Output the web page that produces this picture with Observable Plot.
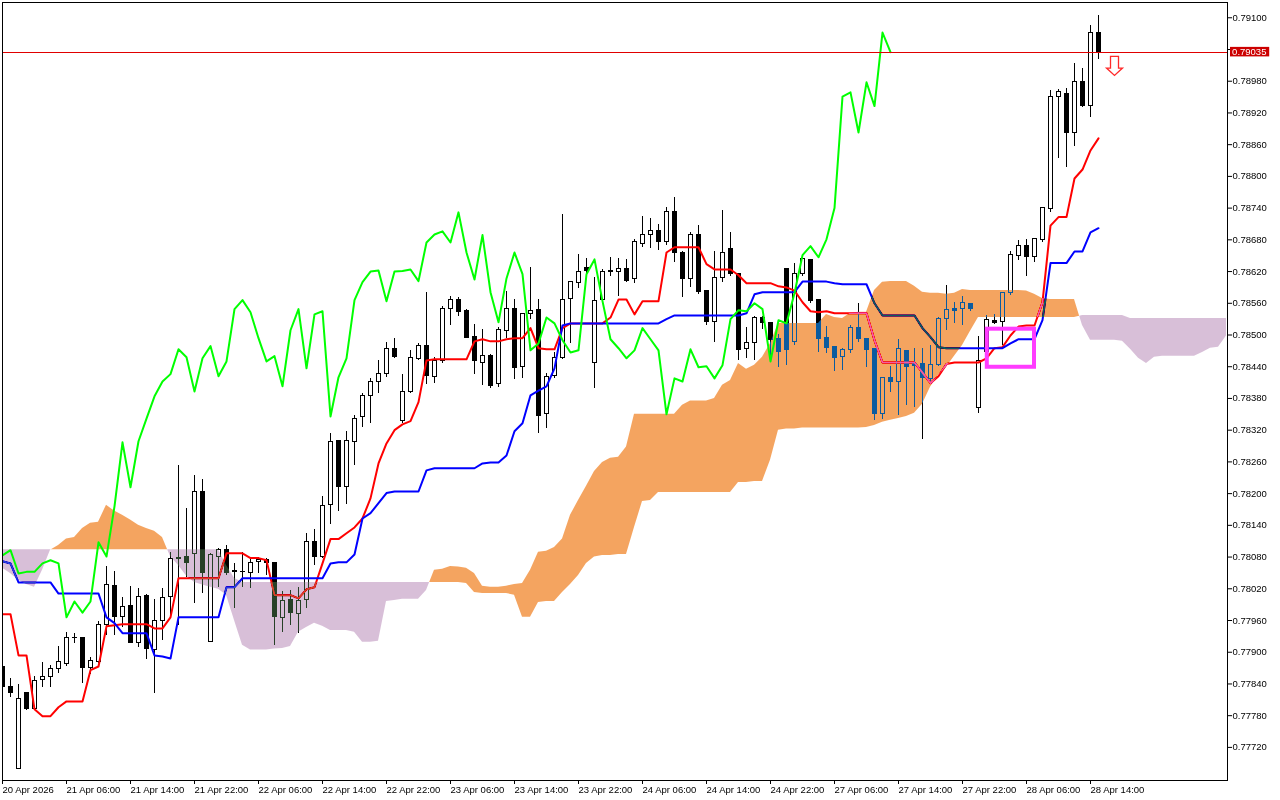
<!DOCTYPE html>
<html>
<head>
<meta charset="utf-8">
<style>
html,body{margin:0;padding:0;background:#ffffff;}
#chart svg{display:block;isolation:isolate;}
</style>
<script src="https://cdn.jsdelivr.net/npm/d3@7"></script>
<script src="https://cdn.jsdelivr.net/npm/@observablehq/plot@0.6"></script>
</head>
<body>
<div id="chart"></div>
<script>
// ---- Candles (H1), bar index 0 = 20 Apr 22:00 ----
const open = [
0.77873,0.77834,0.77680,0.77822,0.77792,0.77847,0.77854,0.77868,0.77877,0.77926,
0.77926,0.77870,0.77881,0.77951,0.78025,0.77966,0.77987,0.77917,0.78006,0.77905,
0.77960,0.78004,0.78078,0.78081,0.78085,0.78203,0.77919,0.78080,0.78093,0.78053,
0.78051,0.78049,0.78070,0.78074,0.78068,0.77964,0.77998,0.77972,0.77998,0.78108,
0.78081,0.78178,0.78299,0.78212,0.78297,0.78344,0.78384,0.78412,0.78426,0.78473,
0.78337,0.78393,0.78454,0.78479,0.78420,0.78450,0.78549,0.78566,0.78545,0.78496,
0.78448,0.78460,0.78407,0.78507,0.78549,0.78439,0.78539,0.78547,0.78350,0.78422,
0.78456,0.78568,0.78598,0.78626,0.78448,0.78566,0.78620,0.78620,0.78624,0.78605,
0.78673,0.78690,0.78696,0.78675,0.78732,0.78656,0.78605,0.78689,0.78583,0.78524,
0.78607,0.78662,0.78615,0.78473,0.78484,0.78533,0.78522,0.78492,0.78624,0.78486,
0.78615,0.78641,0.78566,0.78494,0.78477,0.78458,0.78471,0.78513,0.78492,0.78473,
0.78350,0.78418,0.78412,0.78469,0.78446,0.78446,0.78416,0.78443,0.78530,0.78549,
0.78549,0.78558,0.78361,0.78467,0.78526,0.78524,0.78579,0.78649,0.78668,0.78647,
0.78679,0.78738,0.78951,0.78955,0.78883,0.78978,0.78933,0.79072];
const high = [
0.77881,0.77851,0.77839,0.77824,0.77854,0.77881,0.77875,0.77911,0.77938,0.77936,
0.77927,0.77890,0.77958,0.78062,0.78053,0.78004,0.78025,0.78021,0.78010,0.78000,
0.78021,0.78089,0.78254,0.78172,0.78235,0.78227,0.78087,0.78097,0.78102,0.78068,
0.78089,0.78078,0.78080,0.78078,0.78070,0.78015,0.78017,0.78023,0.78125,0.78132,
0.78195,0.78314,0.78300,0.78318,0.78348,0.78390,0.78418,0.78452,0.78486,0.78494,
0.78426,0.78471,0.78484,0.78581,0.78458,0.78554,0.78573,0.78571,0.78549,0.78520,
0.78511,0.78463,0.78515,0.78583,0.78568,0.78541,0.78628,0.78568,0.78428,0.78467,
0.78728,0.78602,0.78653,0.78645,0.78609,0.78624,0.78647,0.78645,0.78643,0.78681,
0.78725,0.78721,0.78709,0.78741,0.78760,0.78658,0.78694,0.78707,0.78585,0.78658,
0.78736,0.78694,0.78617,0.78515,0.78535,0.78535,0.78524,0.78501,0.78626,0.78636,
0.78649,0.78643,0.78568,0.78516,0.78479,0.78475,0.78518,0.78560,0.78494,0.78475,
0.78420,0.78441,0.78492,0.78471,0.78475,0.78475,0.78481,0.78534,0.78594,0.78562,
0.78573,0.78560,0.78498,0.78537,0.78539,0.78580,0.78658,0.78679,0.78681,0.78683,
0.78742,0.78963,0.78965,0.78967,0.79014,0.79004,0.79086,0.79105];
const low = [
0.77828,0.77815,0.77678,0.77790,0.77790,0.77834,0.77834,0.77860,0.77873,0.77917,
0.77841,0.77858,0.77878,0.77932,0.77932,0.77947,0.77916,0.77909,0.77887,0.77822,
0.77922,0.77970,0.77951,0.78042,0.77993,0.78011,0.77918,0.78023,0.78045,0.77983,
0.78023,0.78021,0.78049,0.78045,0.77913,0.77938,0.77951,0.77936,0.77983,0.78064,
0.78078,0.78142,0.78166,0.78180,0.78254,0.78325,0.78333,0.78390,0.78420,0.78456,
0.78333,0.78390,0.78452,0.78407,0.78409,0.78446,0.78518,0.78535,0.78493,0.78426,
0.78405,0.78399,0.78401,0.78494,0.78416,0.78418,0.78530,0.78314,0.78323,0.78418,
0.78454,0.78484,0.78588,0.78617,0.78399,0.78560,0.78611,0.78573,0.78600,0.78598,
0.78666,0.78664,0.78660,0.78670,0.78637,0.78571,0.78590,0.78577,0.78518,0.78486,
0.78600,0.78610,0.78452,0.78456,0.78452,0.78510,0.78452,0.78439,0.78443,0.78480,
0.78610,0.78560,0.78467,0.78465,0.78431,0.78433,0.78465,0.78486,0.78439,0.78339,
0.78340,0.78392,0.78348,0.78367,0.78363,0.78303,0.78412,0.78440,0.78509,0.78522,
0.78518,0.78545,0.78352,0.78460,0.78520,0.78481,0.78575,0.78641,0.78611,0.78637,
0.78675,0.78732,0.78834,0.78817,0.78857,0.78931,0.78912,0.79021];
const close = [
0.77834,0.77822,0.77811,0.77792,0.77845,0.77854,0.77868,0.77881,0.77926,0.77927,
0.77870,0.77883,0.77951,0.78027,0.77966,0.77985,0.77917,0.78004,0.77907,0.77960,
0.78002,0.78076,0.78077,0.78068,0.78204,0.78049,0.78083,0.78093,0.78049,0.78052,
0.78052,0.78068,0.78074,0.78068,0.77966,0.77996,0.77975,0.77996,0.78108,0.78081,
0.78176,0.78297,0.78212,0.78299,0.78342,0.78384,0.78412,0.78426,0.78473,0.78458,
0.78393,0.78456,0.78479,0.78422,0.78450,0.78549,0.78566,0.78543,0.78494,0.78450,
0.78460,0.78403,0.78509,0.78549,0.78437,0.78539,0.78545,0.78346,0.78420,0.78456,
0.78566,0.78600,0.78620,0.78622,0.78564,0.78620,0.78621,0.78624,0.78602,0.78675,
0.78690,0.78696,0.78675,0.78732,0.78656,0.78605,0.78689,0.78581,0.78524,0.78607,
0.78656,0.78615,0.78471,0.78484,0.78533,0.78522,0.78490,0.78467,0.78471,0.78615,
0.78643,0.78564,0.78492,0.78475,0.78456,0.78471,0.78513,0.78492,0.78471,0.78350,
0.78418,0.78412,0.78473,0.78439,0.78441,0.78418,0.78443,0.78530,0.78547,0.78545,
0.78560,0.78549,0.78450,0.78528,0.78522,0.78579,0.78651,0.78668,0.78647,0.78681,
0.78740,0.78951,0.78959,0.78883,0.78978,0.78933,0.79072,0.79035];

// ---- Ichimoku lines ----
const tenkan = [
0.77972,0.77972,0.77894,0.77894,0.77792,0.77779,0.77779,0.77796,0.77807,0.77807,
0.77807,0.77866,0.77873,0.77949,0.77951,0.77953,0.77953,0.77953,0.77953,0.77945,
0.77945,0.77966,0.78040,0.78040,0.78040,0.78040,0.78040,0.78040,0.78087,0.78087,
0.78087,0.78078,0.78078,0.78074,0.78008,0.78008,0.78008,0.78002,0.78019,0.78023,
0.78068,0.78114,0.78114,0.78125,0.78136,0.78153,0.78191,0.78257,0.78295,0.78320,
0.78331,0.78337,0.78373,0.78452,0.78454,0.78454,0.78454,0.78454,0.78454,0.78488,
0.78492,0.78488,0.78488,0.78492,0.78494,0.78494,0.78513,0.78475,0.78473,0.78473,
0.78513,0.78522,0.78522,0.78522,0.78522,0.78522,0.78533,0.78567,0.78567,0.78539,
0.78564,0.78564,0.78564,0.78656,0.78666,0.78666,0.78666,0.78666,0.78634,0.78624,
0.78624,0.78624,0.78613,0.78598,0.78598,0.78598,0.78598,0.78592,0.78590,0.78584,
0.78562,0.78545,0.78543,0.78545,0.78541,0.78541,0.78541,0.78541,0.78541,0.78490,
0.78448,0.78448,0.78448,0.78448,0.78448,0.78429,0.78409,0.78422,0.78445,0.78448,
0.78448,0.78448,0.78448,0.78456,0.78475,0.78477,0.78499,0.78516,0.78518,0.78518,
0.78562,0.78707,0.78723,0.78723,0.78796,0.78813,0.78849,0.78872];
const kijun = [
0.78072,0.78068,0.78032,0.78032,0.78032,0.78032,0.78032,0.78011,0.78011,0.78011,
0.78011,0.78011,0.78011,0.77966,0.77955,0.77936,0.77936,0.77936,0.77936,0.77894,
0.77892,0.77888,0.77966,0.77966,0.77966,0.77966,0.77966,0.77966,0.78023,0.78023,
0.78040,0.78040,0.78040,0.78040,0.78040,0.78040,0.78040,0.78040,0.78040,0.78040,
0.78040,0.78068,0.78070,0.78070,0.78085,0.78153,0.78163,0.78182,0.78201,0.78204,
0.78204,0.78204,0.78204,0.78244,0.78248,0.78248,0.78248,0.78248,0.78248,0.78248,
0.78257,0.78259,0.78259,0.78272,0.78318,0.78333,0.78386,0.78395,0.78403,0.78437,
0.78518,0.78522,0.78522,0.78522,0.78522,0.78522,0.78522,0.78522,0.78522,0.78522,
0.78522,0.78522,0.78522,0.78530,0.78537,0.78537,0.78537,0.78537,0.78537,0.78537,
0.78537,0.78537,0.78537,0.78541,0.78577,0.78581,0.78581,0.78581,0.78581,0.78581,
0.78601,0.78601,0.78601,0.78601,0.78598,0.78596,0.78596,0.78596,0.78596,0.78560,
0.78537,0.78537,0.78537,0.78537,0.78537,0.78513,0.78496,0.78477,0.78475,0.78475,
0.78475,0.78475,0.78475,0.78475,0.78475,0.78475,0.78484,0.78492,0.78492,0.78492,
0.78528,0.78636,0.78636,0.78636,0.78658,0.78658,0.78694,0.78702];
// Chikou span: plotted 26 bars back (starts at bar 0)
const chikou = [
0.78083,0.78093,0.78049,0.78052,0.78052,0.78068,0.78074,0.78068,0.77966,0.77996,
0.77975,0.77996,0.78108,0.78081,0.78176,0.78297,0.78212,0.78299,0.78342,0.78384,
0.78412,0.78426,0.78473,0.78458,0.78393,0.78456,0.78479,0.78422,0.78450,0.78549,
0.78566,0.78543,0.78494,0.78450,0.78460,0.78403,0.78509,0.78549,0.78437,0.78539,
0.78545,0.78346,0.78420,0.78456,0.78566,0.78600,0.78620,0.78622,0.78564,0.78620,
0.78621,0.78624,0.78602,0.78675,0.78690,0.78696,0.78675,0.78732,0.78656,0.78605,
0.78689,0.78581,0.78524,0.78607,0.78656,0.78615,0.78471,0.78484,0.78533,0.78522,
0.78490,0.78467,0.78471,0.78615,0.78643,0.78564,0.78492,0.78475,0.78456,0.78471,
0.78513,0.78492,0.78471,0.78350,0.78418,0.78412,0.78473,0.78439,0.78441,0.78418,
0.78443,0.78530,0.78547,0.78545,0.78560,0.78549,0.78450,0.78528,0.78522,0.78579,
0.78651,0.78668,0.78647,0.78681,0.78740,0.78951,0.78959,0.78883,0.78978,0.78933,
0.79072,0.79035];
// Senkou spans (already shifted 26 bars forward, bar 0..153)
const spanA = [
0.78059,0.78049,0.78036,0.78028,0.78023,0.78055,0.78093,0.78102,0.78114,0.78117,
0.78134,0.78144,0.78146,0.78178,0.78167,0.78159,0.78150,0.78140,0.78134,0.78129,
0.78117,0.78081,0.78064,0.78044,0.78032,0.78027,0.78023,0.78019,0.78008,0.77960,
0.77913,0.77904,0.77904,0.77904,0.77906,0.77907,0.77911,0.77938,0.77947,0.77955,
0.77949,0.77941,0.77941,0.77941,0.77938,0.77919,0.77919,0.77921,0.77996,0.77998,
0.78000,0.78000,0.78000,0.78017,0.78055,0.78057,0.78062,0.78061,0.78059,0.78049,
0.78025,0.78023,0.78023,0.78025,0.78028,0.78030,0.78055,0.78089,0.78091,0.78098,
0.78114,0.78159,0.78187,0.78214,0.78242,0.78259,0.78267,0.78269,0.78288,0.78350,
0.78350,0.78350,0.78350,0.78350,0.78350,0.78367,0.78375,0.78375,0.78375,0.78380,
0.78405,0.78414,0.78446,0.78435,0.78443,0.78458,0.78484,0.78522,0.78522,0.78522,
0.78522,0.78522,0.78522,0.78539,0.78533,0.78531,0.78541,0.78543,0.78543,0.78584,
0.78600,0.78601,0.78601,0.78601,0.78592,0.78581,0.78579,0.78579,0.78577,0.78579,
0.78586,0.78584,0.78584,0.78584,0.78584,0.78584,0.78584,0.78584,0.78583,0.78577,
0.78569,0.78567,0.78567,0.78567,0.78567,0.78518,0.78490,0.78490,0.78490,0.78490,
0.78488,0.78473,0.78456,0.78446,0.78458,0.78460,0.78460,0.78460,0.78460,0.78460,
0.78467,0.78475,0.78477,0.78498];
const spanB = [
0.78094,0.78094,0.78094,0.78094,0.78094,0.78094,0.78094,0.78094,0.78094,0.78094,
0.78094,0.78094,0.78094,0.78094,0.78094,0.78094,0.78094,0.78094,0.78094,0.78094,
0.78094,0.78094,0.78094,0.78094,0.78094,0.78094,0.78094,0.78094,0.78064,0.78040,
0.78032,0.78032,0.78032,0.78032,0.78032,0.78032,0.78032,0.78032,0.78032,0.78032,
0.78032,0.78032,0.78032,0.78032,0.78032,0.78032,0.78032,0.78032,0.78032,0.78032,
0.78032,0.78032,0.78032,0.78032,0.78032,0.78032,0.78032,0.78032,0.78030,0.78013,
0.78011,0.78011,0.78011,0.78011,0.78008,0.77966,0.77966,0.77994,0.77996,0.77996,
0.78013,0.78028,0.78045,0.78068,0.78080,0.78083,0.78083,0.78085,0.78085,0.78136,
0.78185,0.78187,0.78202,0.78202,0.78202,0.78202,0.78202,0.78202,0.78202,0.78202,
0.78202,0.78202,0.78221,0.78221,0.78223,0.78223,0.78263,0.78320,0.78322,0.78322,
0.78324,0.78324,0.78324,0.78324,0.78324,0.78324,0.78324,0.78324,0.78325,0.78329,
0.78335,0.78339,0.78342,0.78346,0.78352,0.78369,0.78401,0.78424,0.78439,0.78460,
0.78480,0.78507,0.78533,0.78533,0.78533,0.78533,0.78533,0.78533,0.78533,0.78533,
0.78533,0.78533,0.78533,0.78533,0.78533,0.78537,0.78537,0.78537,0.78537,0.78537,
0.78537,0.78531,0.78531,0.78531,0.78531,0.78531,0.78531,0.78531,0.78531,0.78531,
0.78531,0.78531,0.78531,0.78531];

// ---- Axis ticks / labels ----
const yTicks = [0.77720,0.77780,0.77840,0.77900,0.77960,0.78020,0.78080,0.78140,0.78200,0.78260,
0.78320,0.78380,0.78440,0.78500,0.78560,0.78620,0.78680,0.78740,0.78800,0.78860,0.78920,0.78980,0.79040,0.79100];
const xTicks = [0,8,16,24,32,40,48,56,64,72,80,88,96,104,112,120,128,136];
const xLabels = ["20 Apr 2026","21 Apr 06:00","21 Apr 14:00","21 Apr 22:00","22 Apr 06:00","22 Apr 14:00",
"22 Apr 22:00","23 Apr 06:00","23 Apr 14:00","23 Apr 22:00","24 Apr 06:00","24 Apr 14:00","24 Apr 22:00",
"27 Apr 06:00","27 Apr 14:00","27 Apr 22:00","28 Apr 06:00","28 Apr 14:00"];
const lastPrice = 0.79035;
const signal = [{i: 139, p: 0.79009}];
const highlight = [{i0: 123.1, i1: 129.0, lo: 0.78439, hi: 0.78511}];

// ---- build tables ----
const candles = open.map((o, i) => ({i, open: o, high: high[i], low: low[i], close: close[i]}));
const asSeries = arr => arr.map((v, i) => ({i, v}));
const cloud = [];
for (let i = 0; i < spanA.length; i++) {
  const a = spanA[i], b = spanB[i];
  cloud.push({x: i, a, b});
  if (i < spanA.length - 1) {
    const d0 = a - b, d1 = spanA[i + 1] - spanB[i + 1];
    if (d0 * d1 < 0) {
      const t = d0 / (d0 - d1);
      const v = a + t * (spanA[i + 1] - a);
      cloud.push({x: i + t, a: v, b: v});
    }
  }
}
const cloudTop = d => Math.max(d.a, d.b);

const arrowSymbol = {
  draw(ctx) {
    ctx.moveTo(-4, -9.5); ctx.lineTo(4, -9.5); ctx.lineTo(4, 2.2); ctx.lineTo(8, 2.2);
    ctx.lineTo(0, 9.5); ctx.lineTo(-8, 2.2); ctx.lineTo(-4, 2.2); ctx.closePath();
  }
};

const chart = Plot.plot({
  width: 1280, height: 800,
  marginLeft: 2, marginRight: 53, marginTop: 2, marginBottom: 20,
  style: {fontFamily: "'Liberation Sans', Arial, sans-serif", fontSize: "9.5px", background: "white", color: "black"},
  x: {type: "linear", domain: [0, 153.125], axis: null},
  y: {type: "linear", domain: [0.776574, 0.791289], axis: null},
  marks: [
    Plot.frame({fill: "white"}),
    // candles
    Plot.ruleX(candles, {x: "i", y1: "low", y2: "high", stroke: "black", strokeWidth: 1, clip: true, shapeRendering: "crispEdges"}),
    Plot.rect(candles, {x1: d => d.i - 0.25, x2: d => d.i + 0.25, y1: "open", y2: "close",
      fill: d => d.close >= d.open ? "white" : "black", stroke: "black", strokeWidth: 1, clip: true, shapeRendering: "crispEdges"}),
    // tenkan / kijun
    Plot.line(asSeries(tenkan), {x: "i", y: "v", stroke: "#ff0000", strokeWidth: 2, clip: true}),
    Plot.line(asSeries(kijun), {x: "i", y: "v", stroke: "#0000ff", strokeWidth: 2, clip: true}),
    // cloud (drawn with difference blend like the terminal's XOR fill)
    Plot.areaY(cloud, {x: "x", y1: "b", y2: cloudTop, fill: "rgb(11,91,159)", clip: true, mixBlendMode: "difference"}),
    Plot.areaY(cloud, {x: "x", y1: "a", y2: cloudTop, fill: "rgb(39,64,39)", clip: true, mixBlendMode: "difference"}),
    // chikou
    Plot.line(asSeries(chikou), {x: "i", y: "v", stroke: "#00ff00", strokeWidth: 2, clip: true}),
    // last price line
    Plot.ruleY([lastPrice], {stroke: "#e00000", strokeWidth: 1, shapeRendering: "crispEdges"}),
    // signal arrow
    Plot.dot(signal, {x: "i", y: "p", symbol: arrowSymbol, fill: "white", stroke: "#ff2a2a", strokeWidth: 1.3}),
    // highlight box
    Plot.rect(highlight, {x1: "i0", x2: "i1", y1: "lo", y2: "hi", fill: "none", stroke: "#ff3cff", strokeWidth: 4}),
    Plot.frame({stroke: "black", shapeRendering: "crispEdges"}),
    // axes
    Plot.axisY(yTicks, {anchor: "right", tickSize: 4, tickPadding: 1,
      tickFormat: d => Math.abs(d - 0.7904) < 1e-7 ? "" : d.toFixed(5)}),
    Plot.axisX(xTicks, {anchor: "bottom", tickSize: 4, tickFormat: () => ""}),
    Plot.text(xTicks, {x: d => d, frameAnchor: "bottom", lineAnchor: "top", dy: 5.5, textAnchor: "start",
      text: d => xLabels[xTicks.indexOf(d)], fill: "black"}),
    // last price label
    Plot.rect([lastPrice], {x1: 153.5, x2: 158.4, y1: d => d - 0.00009, y2: d => d + 0.00009, fill: "#cc0000"}),
    Plot.text([lastPrice], {x: 153.7, y: d => d, text: d => d.toFixed(5), fill: "white", textAnchor: "start"})
  ]
});
chart.querySelectorAll('g[aria-label="area"]').forEach(g => { g.style.mixBlendMode = "difference"; });
document.getElementById("chart").appendChild(chart);
</script>
</body>
</html>
